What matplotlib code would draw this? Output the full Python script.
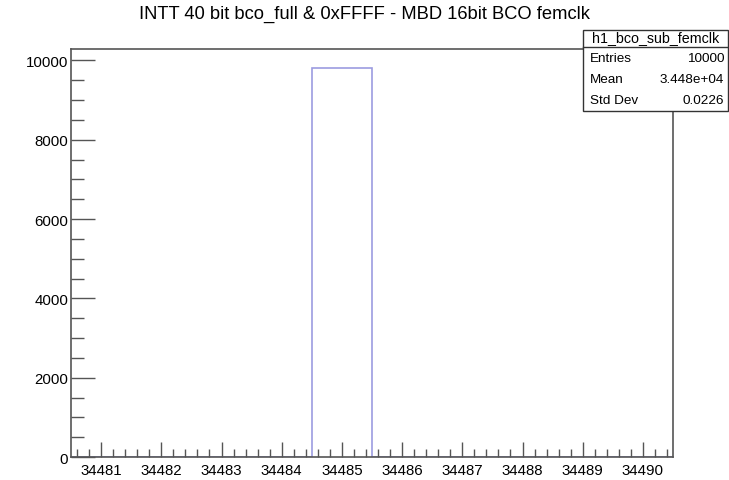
import matplotlib
matplotlib.use("Agg")
import matplotlib.pyplot as plt
from matplotlib.ticker import MultipleLocator
import numpy as np

plt.rcParams['font.family'] = ['Liberation Sans', 'DejaVu Sans']

# histogram h1_bco_sub_femclk
bin_edges = np.arange(34480.5, 34491.0, 1.0)
counts = [0, 0, 0, 0, 9800, 0, 0, 0, 0, 0]

title = "INTT 40 bit bco_full & 0xFFFF - MBD 16bit BCO femclk"
stats_name = "h1_bco_sub_femclk"
stats_rows = [("Entries", "10000"), ("Mean", "3.448e+04"), ("Std Dev", "0.0226")]

fig = plt.figure(figsize=(7.29, 4.81), dpi=100)
ax = fig.add_axes([71 / 729, 1 - 458 / 481, (673 - 71) / 729, (458 - 50) / 481])

ax.stairs(counts, bin_edges, color='#9c9ce0', linewidth=1.2)
ax.set_xlim(bin_edges[0], bin_edges[-1])
ax.set_ylim(0, max(counts) * 1.05)

frame_color = '#555555'
for side in ax.spines.values():
    side.set_color(frame_color)
    side.set_linewidth(1.2)

ax.xaxis.set_major_locator(MultipleLocator(1))
ax.xaxis.set_minor_locator(MultipleLocator(0.2))
ax.yaxis.set_major_locator(MultipleLocator(2000))
ax.yaxis.set_minor_locator(MultipleLocator(500))
ax.xaxis.set_major_formatter(plt.FuncFormatter(lambda v, p: "%d" % round(v)))
ax.tick_params(axis='both', which='both', direction='in', color=frame_color,
               top=False, right=False, labelsize=10.8, width=1)
ax.tick_params(axis='x', which='major', length=11, pad=4)
ax.tick_params(axis='x', which='minor', length=6)
ax.tick_params(axis='y', which='major', length=17, pad=2)
ax.tick_params(axis='y', which='minor', length=9)

fig.text(0.5, 1 - 14 / 481, title, ha='center', va='center', fontsize=13.2)

# stats box
bx0, bx1 = 583 / 729, 728 / 729
by_top, by_bot = 1 - 31 / 481, 1 - 112 / 481
fig.patches.append(plt.Rectangle((bx0, by_bot), bx1 - bx0, by_top - by_bot,
                                 transform=fig.transFigure, facecolor='white',
                                 edgecolor='#333333', linewidth=1, zorder=5))
head_bot = 1 - 48 / 481
fig.add_artist(plt.Line2D([bx0, bx1], [head_bot, head_bot], transform=fig.transFigure,
                          color='#333333', linewidth=1, zorder=6))
fig.text((bx0 + bx1) / 2, 1 - 38 / 481, stats_name, ha='center', va='center',
         fontsize=10.3, zorder=7)
row_h = (head_bot - by_bot) / len(stats_rows)
for i, (k, v) in enumerate(stats_rows):
    yy = head_bot - row_h * (i + 0.5)
    fig.text(bx0 + 0.01, yy, k, ha='left', va='center', fontsize=9.7, zorder=7)
    fig.text(bx1 - 0.005, yy, v, ha='right', va='center', fontsize=9.7, zorder=7)

fig.savefig("out.png", dpi=100)
